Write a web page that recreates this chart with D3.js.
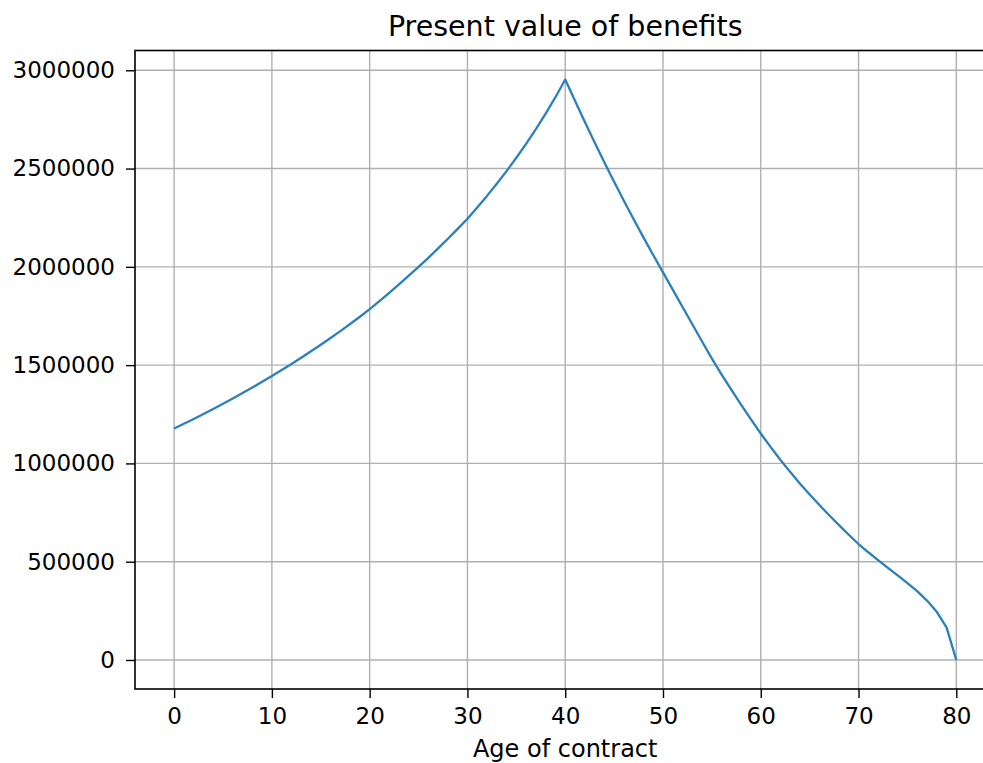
<!DOCTYPE html>
<html>
<head>
<meta charset="utf-8">
<script src="https://cdn.jsdelivr.net/npm/d3@7"></script>
<style>
  body { margin: 0; background: #fff; }
  text { font-family: "DejaVu Sans", sans-serif; fill: #000; }
</style>
</head>
<body>
<svg id="chart" width="983" height="763"></svg>
<script>
// contract age (years) and present value of benefits
const ages = d3.range(0, 81);
const pvBenefits = [
  1178000, 1202000, 1226000, 1251000, 1277000, 1303000, 1330000, 1358000, 1386000, 1415000,
  1445000, 1475000, 1506000, 1538000, 1571000, 1604000, 1638000, 1673000, 1709000, 1746000,
  1785000, 1826000, 1868000, 1911000, 1955000, 2000000, 2046000, 2094000, 2143000, 2193000,
  2245000, 2302000, 2361000, 2423000, 2487000, 2555000, 2626000, 2701000, 2780000, 2863000,
  2953000, 2845000, 2738000, 2634000, 2532000, 2433000, 2336000, 2242000, 2150000, 2060000,
  1972000, 1884000, 1796000, 1708000, 1620000, 1533000, 1452000, 1374000, 1298000, 1224000,
  1152000, 1084000, 1019000, 957000, 898000, 842000, 788000, 736000, 686000, 637000,
  590000, 548000, 508000, 469000, 430000, 391000, 350000, 302000, 245000, 166000,
  0
];
const xTicks = [0, 10, 20, 30, 40, 50, 60, 70, 80];
const yTicks = [0, 500000, 1000000, 1500000, 2000000, 2500000, 3000000];

const titleText = "Present value of benefits";
const xLabel = "Age of contract";

const svg = d3.select("#chart");
const plotLeft = 135, plotTop = 50.5, plotBottom = 689;
const unit = 9.7775;

// matplotlib style 5% margins
const xMin = d3.min(ages), xMax = d3.max(ages);
const xPad = (xMax - xMin) * 0.05;
const x = d3.scaleLinear()
    .domain([xMin - xPad, xMax + xPad])
    .range([plotLeft, plotLeft + (xMax - xMin + 2 * xPad) * unit]);

const yMin = d3.min(pvBenefits), yMax = d3.max(pvBenefits);
const yPad = (yMax - yMin) * 0.05;
const y = d3.scaleLinear()
    .domain([yMin - yPad, yMax + yPad])
    .range([plotBottom, plotTop]);

const plotRight = x.range()[1];

// grid
const grid = svg.append("g").attr("class", "grid");
grid.selectAll("line.v")
    .data(xTicks)
    .enter()
    .append("line")
    .attr("x1", d => x(d)).attr("x2", d => x(d))
    .attr("y1", plotTop).attr("y2", plotBottom)
    .attr("stroke", "#b0b0b0")
    .attr("stroke-width", 1.4);
grid.selectAll("line.h")
    .data(yTicks)
    .enter()
    .append("line")
    .attr("x1", plotLeft).attr("x2", plotRight)
    .attr("y1", d => y(d)).attr("y2", d => y(d))
    .attr("stroke", "#b0b0b0")
    .attr("stroke-width", 1.4);

// the curve
const line = d3.line()
    .x((d, i) => x(ages[i]))
    .y(d => y(d));

svg.append("path")
    .datum(pvBenefits)
    .attr("fill", "none")
    .attr("stroke", "#2a80bd")
    .attr("stroke-width", 2.3)
    .attr("stroke-linejoin", "round")
    .attr("d", line);

// axes
const xAxis = svg.append("g")
    .attr("transform", `translate(0,${plotBottom})`)
    .call(d3.axisBottom(x).tickValues(xTicks).tickSize(9).tickPadding(10).tickSizeOuter(0));
const yAxis = svg.append("g")
    .attr("transform", `translate(${plotLeft},0)`)
    .call(d3.axisLeft(y).tickValues(yTicks).tickFormat(d3.format("d")).tickSize(9).tickPadding(11).tickSizeOuter(0));

[xAxis, yAxis].forEach(g => {
    g.select(".domain").remove();
    g.selectAll(".tick line").attr("stroke", "#000").attr("stroke-width", 1.4);
    g.selectAll(".tick text").style("font-size", "23px").attr("fill", "#000");
});

// frame
svg.append("rect")
    .attr("x", plotLeft).attr("y", plotTop)
    .attr("width", plotRight - plotLeft).attr("height", plotBottom - plotTop)
    .attr("fill", "none")
    .attr("stroke", "#000")
    .attr("stroke-width", 1.6);

svg.append("text")
    .attr("x", (plotLeft + plotRight) / 2)
    .attr("y", 36)
    .attr("text-anchor", "middle")
    .style("font-size", "28.5px")
    .text(titleText);

svg.append("text")
    .attr("x", (plotLeft + plotRight) / 2)
    .attr("y", 757)
    .attr("text-anchor", "middle")
    .style("font-size", "24px")
    .text(xLabel);
</script>
</body>
</html>
